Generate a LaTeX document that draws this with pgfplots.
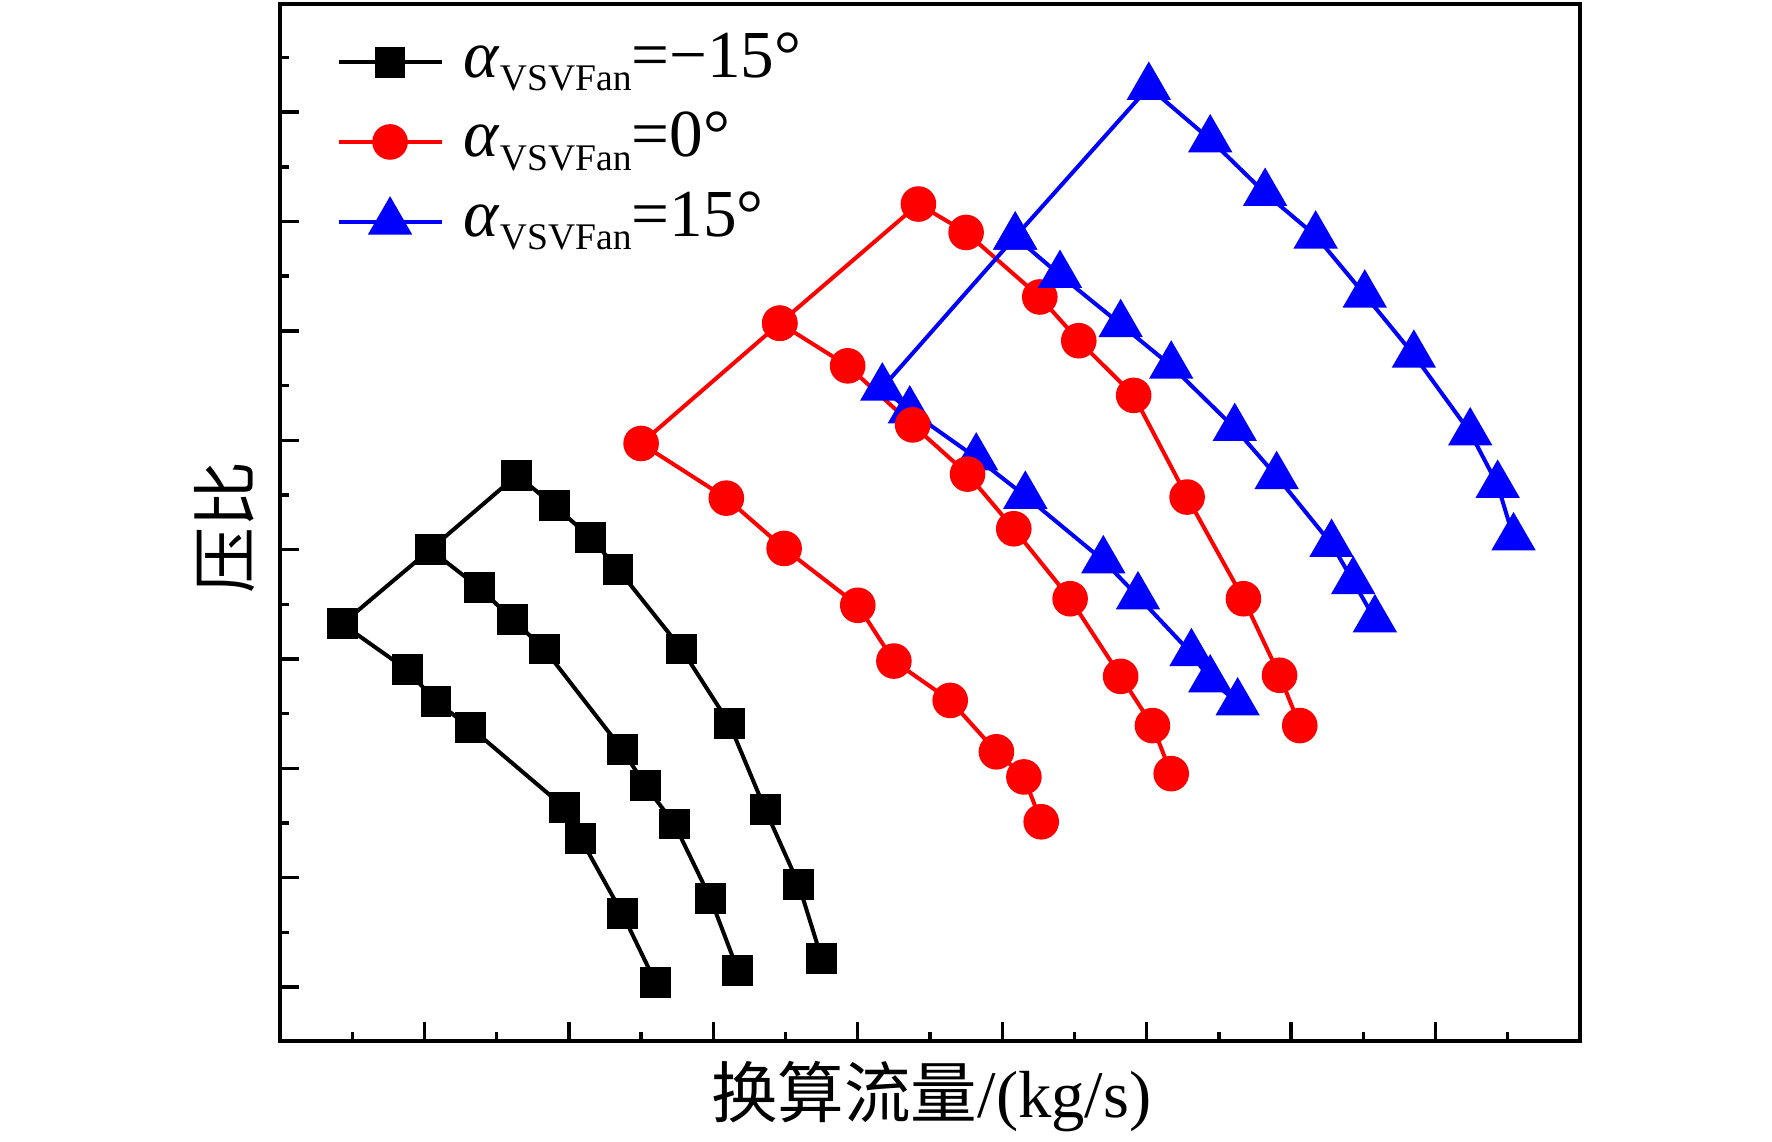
\documentclass[border=0pt]{standalone}
\usepackage{fontspec}
\setmainfont{Liberation Serif}
\newfontfamily\cjk{Noto Sans CJK SC}
\usepackage{pgfplots}
\pgfplotsset{compat=1.18}
\newcommand{\leg}[1]{\fontsize{16.8pt}{19.5pt}\selectfont\textit{α}\raisebox{-3.3pt}{\fontsize{9.4pt}{10pt}\selectfont VSVFan}=#1°}
\begin{document}
\begin{tikzpicture}
\useasboundingbox (0,0) rectangle (443pt,285.5pt);
\begin{axis}[
  at={(70pt,25.25pt)}, anchor=south west,
  scale only axis, width=325pt, height=259.25pt,
  xmin=0, xmax=9, ymin=0.505, ymax=9.99,
  axis line style={line width=1.1pt},
  xtick={1,...,8}, minor xtick={0.5,1.5,...,8.5},
  ytick={1,...,9}, minor ytick={1.5,2.5,...,9.5},
  xticklabels={}, yticklabels={},
  tick pos=left, tick align=inside,
  major tick length=4.8pt, minor tick length=2.2pt,
  tick style={line width=0.85pt, black},
  xlabel={{\cjk 换算流量}/(kg/s)},
  xlabel style={font=\fontsize{16.65pt}{20pt}\selectfont, at={(axis description cs:0.501,-0.0733)}, anchor=base, inner sep=0pt},
  ylabel={\cjk 压比},
  ylabel style={font=\fontsize{16.5pt}{20pt}\selectfont, at={(axis description cs:-0.0427,0.495)}, anchor=center, inner sep=0pt},
  legend style={draw=none, fill=none, at={(axis cs:0.386,9.83)}, anchor=north west, inner sep=0pt, row sep=0pt, column sep=5pt, nodes={inner sep=0pt, text height=13.7pt, text depth=6.25pt}},
  legend cell align=left,
  legend image code/.code={\draw[mark repeat=2,mark phase=2] plot coordinates {(0pt,0pt) (12.875pt,0pt) (25.75pt,0pt)};},
]
% alpha = -15
\addplot[color=black, line width=1pt, mark=square*, mark size=3.6pt, mark options={solid, line width=0.5pt}] coordinates {
(2.60,1.04) (2.37,1.67) (2.08,2.36) (1.97,2.64) (1.32,3.37) (1.08,3.61) (0.88,3.90) (0.43,4.32)
(1.04,5.00) (1.64,5.68)
(1.90,5.40) (2.15,5.11) (2.34,4.82) (2.78,4.09) (3.11,3.41) (3.36,2.62) (3.59,1.94) (3.75,1.26)
};
\addlegendentry{\leg{−15}}
% alpha = 0
\addplot[color=red, line width=1pt, mark=*, mark size=4.2pt, mark options={solid, line width=0.5pt}] coordinates {
(5.27,2.51) (5.15,2.92) (4.96,3.15) (4.64,3.62) (4.25,3.98) (4.00,4.49) (3.49,5.01) (3.09,5.47) (2.50,5.97)
(3.46,7.07) (4.42,8.16)
(4.75,7.90) (5.26,7.31) (5.53,6.91) (5.91,6.41) (6.28,5.48) (6.67,4.55) (6.92,3.85) (7.06,3.39)
};
\addlegendentry{\leg{0}}
% alpha = 15
\addplot[color=blue, line width=1pt, mark=triangle*, mark size=5.9pt, mark options={solid, line width=0.5pt}] coordinates {
(6.63,3.60) (6.44,3.81) (6.31,4.05) (5.94,4.57) (5.70,4.90) (5.16,5.49) (4.82,5.84) (4.36,6.27) (4.17,6.48)
(5.09,7.86) (6.015,9.23)
(6.44,8.75) (6.82,8.26) (7.17,7.87) (7.51,7.33) (7.85,6.78) (8.24,6.07) (8.43,5.59) (8.54,5.11)
};
\addlegendentry{\leg{15}}
% middle branches
\addplot[forget plot, color=black, line width=1pt, mark=square*, mark size=3.6pt, mark options={solid, line width=0.5pt}] coordinates {
(1.04,5.00) (1.38,4.65) (1.61,4.36) (1.83,4.09) (2.37,3.17) (2.53,2.84) (2.73,2.49) (2.98,1.81) (3.17,1.15)
};
\addplot[forget plot, color=red, line width=1pt, mark=*, mark size=4.2pt, mark options={solid, line width=0.5pt}] coordinates {
(3.46,7.07) (3.93,6.68) (4.38,6.14) (4.76,5.69) (5.08,5.19) (5.47,4.55) (5.82,3.84) (6.04,3.39) (6.17,2.95)
};
\addplot[forget plot, color=blue, line width=1pt, mark=triangle*, mark size=5.9pt, mark options={solid, line width=0.5pt}] coordinates {
(5.09,7.86) (5.40,7.51) (5.82,7.06) (6.17,6.68) (6.61,6.11) (6.90,5.67) (7.28,5.05) (7.43,4.71) (7.58,4.36)
};
\end{axis}
\end{tikzpicture}
\end{document}
